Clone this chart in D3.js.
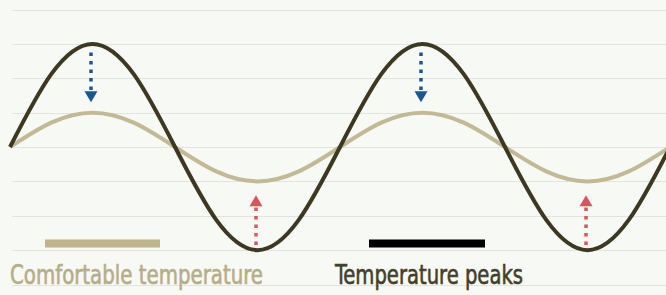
<!DOCTYPE html>
<html>
<head>
<meta charset="utf-8">
<script src="https://cdn.jsdelivr.net/npm/d3@7"></script>
<style>
  html, body { margin: 0; padding: 0; background: #f7f9f5; }
  svg { display: block; }
</style>
</head>
<body>
<div id="chart"></div>
<script>
// step = eighth of a cycle, value = level on the grid
var steps = [0, 1, 2, 3, 4, 5, 6, 7, 8, 9, 10, 11, 12, 13, 14, 15, 16];
var peaks = [3, 5.12, 6, 5.12, 3, 0.88, 0, 0.88, 3, 5.12, 6, 5.12, 3, 0.88, 0, 0.88, 3];
var comfort = [3, 3.71, 4, 3.71, 3, 2.29, 2, 2.29, 3, 3.71, 4, 3.71, 3, 2.29, 2, 2.29, 3];
var gridLevels = [-1, 0, 1, 2, 3, 4, 5, 6, 7];

// arrows: where, from, to
var coolArrows = [{step: 2, from: 5.75, to: 4.3}, {step: 10, from: 5.75, to: 4.3}];
var warmArrows = [{step: 6, from: 0.15, to: 1.6}, {step: 14, from: 0.15, to: 1.6}];

var legendLabels = ["Comfortable temperature", "Temperature peaks"];

var width = 666, height = 295;

var svg = d3.select("#chart").append("svg")
  .attr("width", width)
  .attr("height", height);

var xScale = d3.scaleLinear()
  .domain([0, 8])
  .range([10, 340]);

var yScale = d3.scaleLinear()
  .domain([-1, 7])
  .range([284.5, 9.5]);

// grid
svg.append("g")
  .selectAll("line")
  .data(gridLevels)
  .enter().append("line")
  .attr("x1", 12)
  .attr("x2", width)
  .attr("y1", function(d) { return Math.round(yScale(d)) + 0.5; })
  .attr("y2", function(d) { return Math.round(yScale(d)) + 0.5; })
  .attr("stroke", "#e2e5df")
  .attr("stroke-width", 1);

var line = d3.line()
  .x(function(d) { return xScale(d.step); })
  .y(function(d) { return yScale(d.value); })
  .curve(d3.curveNatural);

function toPoints(values) {
  return steps.map(function(s, i) { return {step: s, value: values[i]}; });
}

svg.append("path")
  .datum(toPoints(comfort))
  .attr("d", line)
  .attr("fill", "none")
  .attr("stroke", "#c3ba95")
  .attr("stroke-width", 4);

svg.append("path")
  .datum(toPoints(peaks))
  .attr("d", line)
  .attr("fill", "none")
  .attr("stroke", "#3d3921")
  .attr("stroke-width", 4);

function drawArrows(data, color) {
  var g = svg.append("g");
  g.selectAll("line")
    .data(data)
    .enter().append("line")
    .attr("x1", function(d) { return xScale(d.step) - 1.5; })
    .attr("x2", function(d) { return xScale(d.step) - 1.5; })
    .attr("y1", function(d) { return yScale(d.from); })
    .attr("y2", function(d) {
      var dir = d.to > d.from ? 1 : -1;
      return yScale(d.to) + dir * 10;
    })
    .attr("stroke", color)
    .attr("stroke-width", 3.5)
    .attr("stroke-dasharray", "3.5,5");

  g.selectAll("path")
    .data(data)
    .enter().append("path")
    .attr("d", function(d) {
      var x = xScale(d.step) - 1.5, tip = yScale(d.to);
      var base = d.to > d.from ? tip + 11 : tip - 11;
      return "M" + (x - 6.5) + "," + base + "L" + (x + 6.5) + "," + base + "L" + x + "," + tip + "Z";
    })
    .attr("fill", color);
}

drawArrows(coolArrows, "#1d5793");
drawArrows(warmArrows, "#d9555c");

// legend
var legend = [
  {label: legendLabels[0], x: 10, width: 253, bx: 45, bw: 115, bar: "#bfb48d", text: "#b6ad87"},
  {label: legendLabels[1], x: 335, width: 188, bx: 369, bw: 116, bar: "#000000", text: "#433f28"}
];

svg.selectAll(".legend-bar")
  .data(legend)
  .enter().append("rect")
  .attr("class", "legend-bar")
  .attr("x", function(d) { return d.bx; })
  .attr("y", 239.5)
  .attr("width", function(d) { return d.bw; })
  .attr("height", 8)
  .attr("fill", function(d) { return d.bar; });

svg.selectAll(".legend-text")
  .data(legend)
  .enter().append("text")
  .attr("class", "legend-text")
  .attr("x", function(d) { return d.x; })
  .attr("y", 284)
  .attr("textLength", function(d) { return d.width; })
  .attr("lengthAdjust", "spacingAndGlyphs")
  .attr("font-family", "'Liberation Sans Narrow', 'DejaVu Sans Condensed', sans-serif")
  .attr("font-size", 27)
  .attr("fill", function(d) { return d.text; })
  .attr("stroke", function(d) { return d.text; })
  .attr("stroke-width", 0.6)
  .text(function(d) { return d.label; });
</script>
</body>
</html>
